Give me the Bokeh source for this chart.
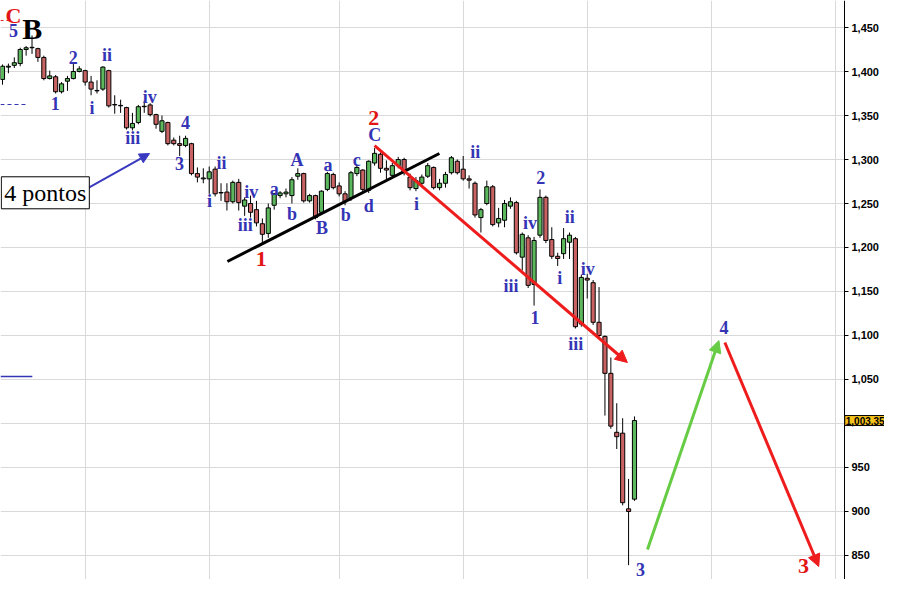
from bokeh.plotting import figure
from bokeh.models import (ColumnDataSource, FixedTicker, NumeralTickFormatter,
                          Label, Arrow, NormalHead)
from bokeh.embed import file_html
from bokeh.resources import INLINE
from bokeh.core.properties import value

# ---------------- data ----------------
opens = [1391, 1405, 1407, 1409, 1425, 1427, 1426, 1416, 1392, 1394,
         1377, 1389, 1392, 1400, 1401, 1388, 1378, 1380, 1401, 1362,
         1361, 1359, 1336, 1342, 1360, 1362, 1351, 1332, 1342, 1322,
         1318, 1316, 1318, 1284, 1278, 1278, 1289, 1262, 1263, 1252,
         1274, 1247, 1250, 1243, 1227, 1216, 1248, 1259, 1261, 1259,
         1281, 1284, 1253, 1259, 1240, 1266, 1283, 1270, 1261, 1256,
         1284, 1288, 1265, 1296, 1306, 1290, 1282, 1293, 1300, 1280,
         1267, 1273, 1281, 1291, 1268, 1273, 1285, 1298, 1289, 1278,
         1273, 1234, 1250, 1269, 1228, 1231, 1247, 1251, 1189, 1211,
         1158, 1214, 1257, 1209, 1190, 1193, 1206, 1210, 1113, 1165,
         1160, 1115, 1099, 1057, 990, 989, 903, 914]
highs = [1408, 1409, 1416, 1427, 1429, 1441, 1427, 1418, 1401, 1396,
         1388, 1395, 1409, 1406, 1402, 1395, 1390, 1406, 1402, 1373,
         1368, 1360, 1353, 1362, 1367, 1364, 1352, 1350, 1343, 1325,
         1327, 1327, 1319, 1291, 1290, 1292, 1292, 1273, 1273, 1276,
         1278, 1257, 1259, 1253, 1233, 1250, 1262, 1264, 1267, 1280,
         1290, 1285, 1261, 1260, 1265, 1286, 1285, 1274, 1264, 1287,
         1294, 1289, 1299, 1313, 1308, 1299, 1296, 1303, 1302, 1284,
         1280, 1283, 1296, 1292, 1278, 1286, 1304, 1300, 1304, 1282,
         1275, 1245, 1276, 1271, 1245, 1254, 1257, 1253, 1217, 1214,
         1212, 1266, 1259, 1223, 1194, 1222, 1217, 1212, 1169, 1170,
         1163, 1155, 1100, 1075, 1023, 1006, 937, 1008]
lows = [1385, 1398, 1404, 1406, 1418, 1420, 1411, 1390, 1391, 1375,
        1375, 1378, 1391, 1399, 1384, 1373, 1375, 1378, 1359, 1352,
        1353, 1334, 1333, 1340, 1353, 1349, 1335, 1330, 1316, 1316,
        1304, 1314, 1282, 1274, 1273, 1261, 1258, 1253, 1242, 1250,
        1242, 1236, 1234, 1224, 1205, 1211, 1243, 1256, 1257, 1250,
        1277, 1251, 1251, 1232, 1238, 1264, 1266, 1258, 1248, 1253,
        1281, 1262, 1262, 1293, 1285, 1276, 1279, 1290, 1282, 1265,
        1264, 1270, 1279, 1266, 1265, 1268, 1283, 1283, 1276, 1267,
        1234, 1217, 1248, 1224, 1223, 1223, 1244, 1192, 1174, 1154,
        1134, 1211, 1205, 1187, 1179, 1187, 1187, 1108, 1110, 1142,
        1112, 1098, 1009, 994, 971, 907, 839, 912]
closes = [1406, 1406, 1410, 1425, 1427, 1427.5, 1416, 1392, 1395, 1377,
          1386, 1392, 1400, 1403, 1388, 1380, 1378.5, 1405, 1361, 1362.5,
          1361.5, 1336, 1341, 1360, 1360.5, 1351, 1340, 1344, 1318, 1318,
          1316, 1324, 1284, 1280, 1279, 1286, 1261, 1262.5, 1252, 1274,
          1251, 1254, 1240, 1228, 1215, 1245, 1261, 1262, 1263, 1277,
          1284, 1253, 1259, 1234, 1264, 1284, 1268, 1261, 1252, 1285,
          1291, 1266, 1298, 1307, 1290, 1288, 1293, 1300, 1285, 1268,
          1276, 1280, 1293, 1268, 1273, 1283, 1302, 1285, 1278, 1276.5,
          1237, 1243, 1269, 1226, 1233, 1250, 1252, 1194, 1215, 1157,
          1208, 1257, 1208, 1190, 1187.5, 1210, 1214, 1110, 1166, 1163,
          1115, 1100, 1057, 997, 985, 910, 900, 1003.35]

price_ticks = list(range(850, 1451, 50))
month_ticks = [14, 35, 57, 78, 99, 120, 141]
last_price = 1003.35
last_label = "1,003.35"

# Elliott-wave labels: (bar index, price, text, kind)
wave_x = [1.85, 1.85, 5.05, 8.93, 11.96, 15.16, 17.69, 22.07, 24.94, 31.0,
          29.99, 35.05, 37.07, 42.12, 41.11, 43.81, 46.0, 49.03, 49.87, 54.09,
          55.1, 58.13, 59.98, 62.0, 63.02, 62.85, 70.09, 80.03, 91.15, 89.3,
          86.1, 90.14, 96.04, 94.36, 99.07, 97.05, 108.0, 122.16, 135.6]
wave_y = [1463.6, 1446.6, 1448.9, 1363.6, 1415.9, 1359.1, 1418.2, 1325.0, 1370.5, 1342.0,
          1295.5, 1253.4, 1295.5, 1263.6, 1226.1, 1186.4, 1267.0, 1238.6, 1298.9, 1221.6,
          1294.3, 1236.4, 1298.9, 1247.7, 1327.3, 1346.6, 1250.0, 1308.0, 1279.5, 1227.3,
          1155.7, 1120.5, 1235.2, 1165.9, 1176.1, 1090.9, 834.0, 1109.1, 838.6]
wave_text = ["C", "5", "B", "1", "2", "i", "ii", "iii", "iv", "4",
             "3", "i", "ii", "iv", "iii", "1", "a", "b", "A", "B",
             "a", "b", "c", "d", "C", "2", "i", "ii", "2", "iv",
             "iii", "1", "ii", "i", "iv", "iii", "3", "4", "3"]
wave_kind = ["major", "minor", "big", "minor", "minor", "minor", "minor", "minor", "minor", "minor",
             "minor", "minor", "minor", "minor", "minor", "major", "minor", "minor", "minor", "minor",
             "minor", "minor", "minor", "minor", "minor", "major", "minor", "minor", "minor", "minor",
             "minor", "minor", "minor", "minor", "minor", "minor", "minor", "minor", "major"]

# trend line and arrows (bar index, price)
channel_x = [38.08, 73.97]
channel_y = [1184.1, 1306.8]
arrows = [  # x0, y0, x1, y1, kind
    (63.0, 1315.9, 105.8, 1069.3, "red"),
    (109.2, 856.8, 121.3, 1094.3, "green"),
    (122.3, 1092.0, 138.2, 837.5, "red"),
    (13.1, 1262.5, 24.9, 1306.8, "blue"),
]

# ---------------- styling ----------------
RED_BODY = "#c96363"
GREEN_BODY = "#5cb85c"
BLUE = "#3434b4"
RED = "#e21515"
kind_color = {"major": RED, "minor": BLUE, "big": "black"}
kind_size = {"major": "22px", "minor": "18px", "big": "30px"}
arrow_color = {"red": "#ee1c1c", "green": "#66cc44", "blue": "#3a3ac0"}
arrow_width = {"red": 3, "green": 3, "blue": 2}
arrow_head = {"red": 12, "green": 12, "blue": 10}

X_START, AXIS_X, X_END = -0.337, 142.55, 149.33
Y_START, Y_END = 822.7, 1480.7

idx = list(range(len(opens)))
tops = [max(o, c) for o, c in zip(opens, closes)]
bots = [min(o, c) for o, c in zip(opens, closes)]
cols = [GREEN_BODY if c > o else RED_BODY for o, c in zip(opens, closes)]
src = ColumnDataSource(dict(x=idx, o=opens, h=highs, l=lows, c=closes,
                            top=tops, bot=bots, col=cols))

p = figure(frame_width=884, frame_height=579,
           x_range=(X_START, X_END), y_range=(Y_START, Y_END),
           output_backend="svg", toolbar_location=None,
           y_axis_location="right", min_border=0)
p.outline_line_color = None
p.background_fill_color = "white"
p.border_fill_color = "white"

p.xaxis.visible = False
p.xgrid.ticker = FixedTicker(ticks=month_ticks)
p.ygrid.ticker = FixedTicker(ticks=price_ticks)
p.grid.grid_line_color = "#d9d9d9"
p.grid.grid_line_width = 1

ax = p.yaxis[0]
ax.fixed_location = AXIS_X
ax.ticker = FixedTicker(ticks=[t for t in price_ticks if t != 1000])
ax.formatter = NumeralTickFormatter(format="0,0")
ax.major_label_text_font = "Liberation Sans"
ax.major_label_text_font_style = "bold"
ax.major_label_text_font_size = "11px"
ax.major_label_text_color = "black"
ax.major_tick_out = 4
ax.major_tick_in = 0
ax.minor_tick_out = 0
ax.minor_tick_in = 0
ax.axis_line_color = "black"
ax.major_tick_line_color = "black"
ax.major_label_standoff = 3

# white margin behind the price scale (hides grid lines right of the axis)
p.quad(left=[AXIS_X], right=[X_END], bottom=[Y_START], top=[Y_END],
       fill_color="white", line_color=None)

# left-edge reference lines
p.line([-0.34, 4.4], [1362.5, 1362.5], line_color=BLUE, line_width=1, line_dash="4 3")
p.line([-0.34, 5.05], [1053.4, 1053.4], line_color=BLUE, line_width=1.5)
p.line([-0.34, 1.35], [1458.0, 1458.0], line_color=RED, line_width=1, line_dash="3 3")

# candles
p.segment(x0="x", y0="l", x1="x", y1="h", source=src, line_color="black", line_width=1)
p.vbar(x="x", width=0.7, top="top", bottom="bot", source=src,
       fill_color="col", line_color="black", line_width=1)

# channel line
p.line(channel_x, channel_y, line_color="black", line_width=3)

# arrows
for x0, y0, x1, y1, k in arrows:
    c = arrow_color[k]
    p.add_layout(Arrow(end=NormalHead(size=arrow_head[k], fill_color=c, line_color=c),
                       x_start=x0, y_start=y0, x_end=x1, y_end=y1,
                       line_color=c, line_width=arrow_width[k]))

# wave labels
lab = ColumnDataSource(dict(x=wave_x, y=wave_y, text=wave_text,
                            color=[kind_color[k] for k in wave_kind],
                            size=[kind_size[k] for k in wave_kind]))
p.text(x="x", y="y", text="text", source=lab, text_color="color",
       text_font_size="size", text_font=value("Liberation Serif"),
       text_font_style="bold", text_align="center", text_baseline="middle")

# "4 pontos" box
p.add_layout(Label(x=-0.2, y=1244.0, text="4 pontos", text_font="'Liberation Serif', serif",
                   text_font_size="24px", text_color="black", text_align="left",
                   text_baseline="bottom", border_line_color="black", border_line_width=1,
                   background_fill_color="white", padding=3))

# last price tag on the price scale
p.add_layout(Label(x=AXIS_X + 0.05, y=last_price, text=last_label, text_font="Liberation Sans",
                   text_font_style="bold", text_font_size="10px", text_color="black",
                   text_align="left", text_baseline="middle",
                   background_fill_color="#f6c21c", border_line_color="black",
                   border_line_width=1, padding=1))

open("out.html", "w").write(file_html(p, INLINE))
